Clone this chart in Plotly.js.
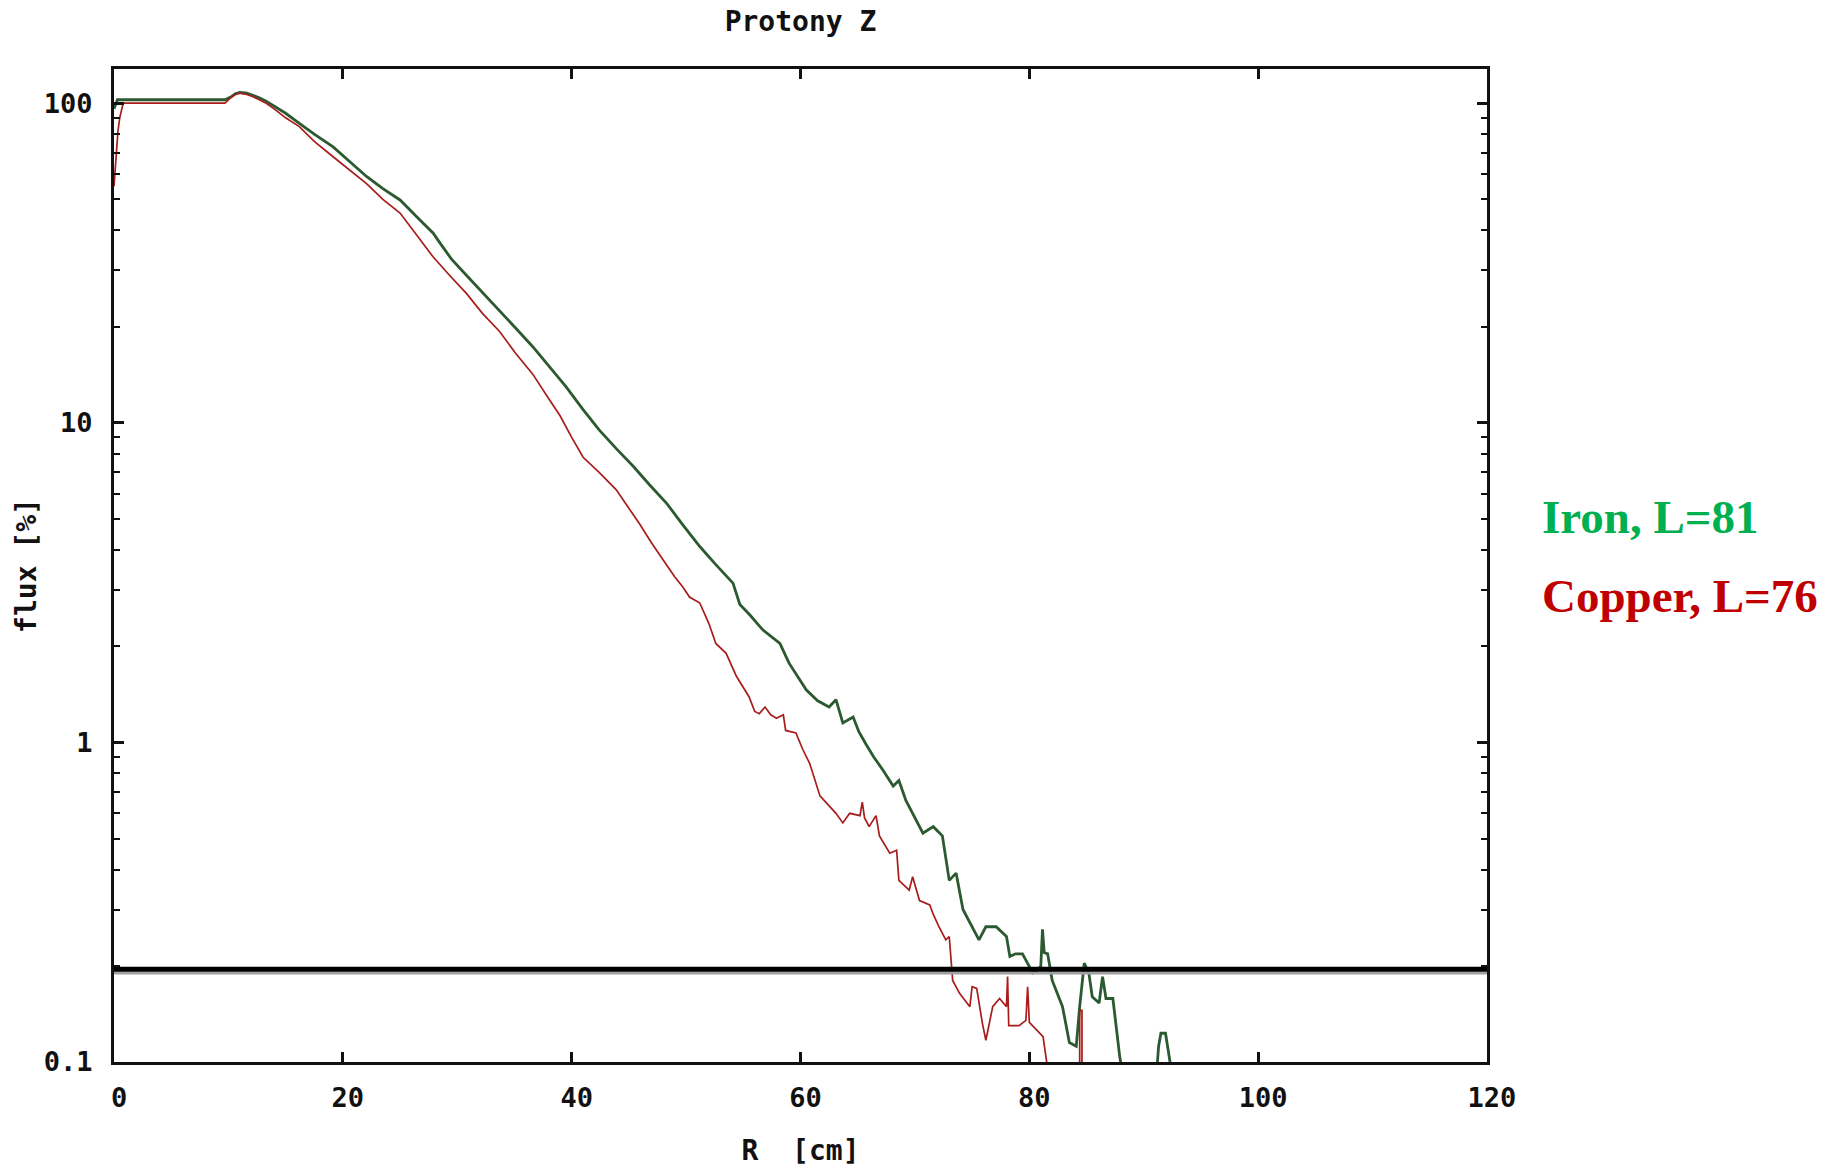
<!DOCTYPE html>
<html>
<head>
<meta charset="utf-8">
<script src="https://cdn.plot.ly/plotly-3.0.1.min.js"></script>
<style>html,body{margin:0;padding:0;background:#fff;}#chart{width:1835px;height:1167px;}</style>
</head>
<body>
<div id="chart"></div>
<script>
// Iron (green) profile: R [cm] and flux [%]
const ironR = [0, 0.3, 9.7, 10.2, 10.6, 11.0, 11.6, 12.1, 12.7, 13.3, 14.0, 15.0, 16.2, 17.5, 19.15, 20.5, 22.07, 23.5, 25.0, 26.5, 27.9, 28.5, 29.5, 30.9, 32.25, 33.7, 35.1, 36.6, 38.0, 39.5, 41.0, 42.4, 43.9, 45.4, 46.8, 48.3, 49.7, 51.2, 52.6, 54.1, 54.7, 55.6, 56.7, 58.2, 59.0, 59.8, 60.5, 61.5, 62.5, 63.1, 63.7, 64.6, 65.1, 65.7, 66.4, 67.2, 68.1, 68.6, 69.2, 69.8, 70.7, 71.6, 72.4, 73.0, 73.6, 74.2, 75.0, 75.6, 76.2, 77.1, 78.0, 78.3, 78.8, 79.4, 80.3, 81.0, 81.15, 81.3, 81.6, 82.0, 82.9, 83.5, 84.1, 84.4, 84.8, 85.2, 85.5, 86.1, 86.4, 86.7, 87.3, 87.6, 87.9, 88.2, 91.1, 91.3, 91.5, 91.9, 92.2, 92.5];
const ironFlux = [96, 102.5, 102.5, 104.5, 107, 108, 107.5, 106, 104, 101.5, 98, 93, 86.5, 80, 73, 66, 59, 54, 49.8, 44, 39.2, 36.5, 32.5, 28.7, 25.5, 22.5, 19.8, 17.3, 15, 12.97, 11.0, 9.5, 8.3, 7.3, 6.4, 5.6, 4.8, 4.1, 3.6, 3.15, 2.7, 2.5, 2.25, 2.04, 1.77, 1.6, 1.46, 1.35, 1.29, 1.36, 1.15, 1.2, 1.08, 0.99, 0.9, 0.82, 0.73, 0.76, 0.66, 0.6, 0.52, 0.545, 0.51, 0.37, 0.39, 0.30, 0.265, 0.241, 0.265, 0.265, 0.247, 0.214, 0.218, 0.218, 0.19, 0.199, 0.26, 0.22, 0.218, 0.18, 0.149, 0.115, 0.112, 0.149, 0.204, 0.19, 0.16, 0.153, 0.185, 0.158, 0.158, 0.129, 0.104, 0.09, 0.09, 0.112, 0.123, 0.123, 0.106, 0.09];

// Copper (red) profile: R [cm] and flux [%]
const copperR = [0, 0.1, 0.2, 0.35, 0.5, 0.65, 0.8, 9.7, 10.2, 10.6, 11.0, 11.6, 12.1, 12.7, 13.3, 14.0, 15.0, 16.2, 17.5, 19.15, 20.5, 22.07, 23.5, 25.0, 26.5, 27.9, 29.3, 30.8, 32.2, 33.7, 35.1, 36.6, 37.8, 39.0, 40.0, 41.0, 42.4, 43.9, 45.0, 45.9, 47.0, 48.3, 49.0, 49.7, 50.3, 51.2, 52.0, 52.6, 53.5, 54.4, 55.0, 55.5, 56.0, 56.4, 56.9, 57.4, 57.9, 58.5, 58.7, 59.6, 60.2, 60.8, 61.7, 62.4, 63.1, 63.7, 64.3, 65.2, 65.4, 65.6, 66.0, 66.6, 66.9, 67.8, 68.4, 68.6, 69.5, 69.8, 70.4, 71.3, 71.6, 72.1, 72.7, 73.0, 73.3, 73.9, 74.8, 75.0, 75.4, 75.9, 76.2, 76.8, 77.4, 78.0, 78.1, 78.2, 79.1, 79.7, 79.85, 80.0, 80.6, 81.2, 81.7, 84.4, 84.4, 84.6, 84.6];
const copperFlux = [55, 62, 72, 82, 90, 96, 100, 100, 104, 106.5, 107.5, 106.5, 105, 102.5, 100, 96, 90, 84.5, 76, 68, 62, 56, 50, 45.3, 38.5, 33, 29, 25.4, 22, 19.3, 16.5, 14.2, 12.2, 10.5, 9.0, 7.8, 7.0, 6.17, 5.4, 4.85, 4.2, 3.6, 3.3, 3.07, 2.85, 2.73, 2.35, 2.04, 1.9, 1.61, 1.48, 1.39, 1.25, 1.23, 1.29, 1.22, 1.19, 1.22, 1.09, 1.07, 0.95, 0.86, 0.68, 0.64, 0.60, 0.56, 0.60, 0.59, 0.65, 0.58, 0.545, 0.59, 0.51, 0.45, 0.46, 0.37, 0.345, 0.38, 0.32, 0.31, 0.29, 0.265, 0.241, 0.247, 0.18, 0.164, 0.149, 0.172, 0.17, 0.132, 0.117, 0.149, 0.158, 0.149, 0.185, 0.13, 0.13, 0.135, 0.172, 0.133, 0.126, 0.12, 0.09, 0.09, 0.145, 0.145, 0.09];

// Horizontal reference level
const limitR = [0, 120];
const limitFlux = [0.195, 0.195];
const limitShadowFlux = [0.19, 0.19];

// Axis ticks
const xTicks = [0, 20, 40, 60, 80, 100, 120];
const yTicks = [0.1, 1, 10, 100];
const yTickText = ['0.1', '1', '10', '100'];

const tickFont = {family: 'DejaVu Sans Mono', size: 27, color: '#111', weight: 'bold'};
const titleFont = {family: 'DejaVu Sans Mono', size: 28, color: '#111', weight: 'bold'};

const traces = [
  {x: ironR, y: ironFlux, type: 'scatter', mode: 'lines', line: {shape: 'linear', color: '#2b5a30', width: 2.8}, hoverinfo: 'skip'},
  {x: copperR, y: copperFlux, type: 'scatter', mode: 'lines', line: {shape: 'linear', color: '#a81c1c', width: 1.7}, hoverinfo: 'skip'},
  {x: limitR, y: limitShadowFlux, type: 'scatter', mode: 'lines', line: {color: '#a0a0a0', width: 3}, hoverinfo: 'skip'},
  {x: limitR, y: limitFlux, type: 'scatter', mode: 'lines', line: {color: '#000', width: 5}, hoverinfo: 'skip'}
];

const layout = {
  width: 1835, height: 1167,
  margin: {l: 114, r: 348, t: 69, b: 105, pad: 0},
  paper_bgcolor: '#fff', plot_bgcolor: '#fff',
  showlegend: false,
  title: {text: 'Protony Z', font: titleFont, x: 0.5, xref: 'paper', xanchor: 'center', y: 0.982, yanchor: 'middle'},
  xaxis: {
    type: 'linear', range: [0, 120], tickvals: xTicks, ticktext: xTicks.map(String),
    ticks: 'inside', ticklen: 10, tickwidth: 3, tickcolor: '#111',
    showline: true, linewidth: 3, linecolor: '#111', mirror: 'ticks',
    showgrid: false, zeroline: false, tickfont: tickFont, ticklabelstandoff: 10, ticklabelshift: 5,
    title: {text: 'R  [cm]', font: titleFont, standoff: 34}
  },
  yaxis: {
    type: 'log', range: [-1, 2.107], tickvals: yTicks, ticktext: yTickText,
    ticks: 'inside', ticklen: 10, tickwidth: 3, tickcolor: '#111',
    minor: {ticks: 'inside', ticklen: 6, tickwidth: 2, tickcolor: '#111', dtick: 'D1', showgrid: false},
    showline: true, linewidth: 3, linecolor: '#111', mirror: 'ticks',
    showgrid: false, zeroline: false, tickfont: tickFont, ticklabelstandoff: 13,
    title: {text: 'flux [%]', font: titleFont, standoff: 0}
  },
  annotations: [
    {text: 'Iron, L=81', xref: 'paper', yref: 'paper', x: 1.0387, y: 0.549, xanchor: 'left', yanchor: 'middle', showarrow: false,
     font: {family: 'Liberation Serif', size: 47, color: '#00b050', weight: 'bold'}},
    {text: 'Copper, L=76', xref: 'paper', yref: 'paper', x: 1.0385, y: 0.4695, xanchor: 'left', yanchor: 'middle', showarrow: false,
     font: {family: 'Liberation Serif', size: 47, color: '#c00000', weight: 'bold'}}
  ]
};

Plotly.newPlot('chart', traces, layout, {staticPlot: true, displayModeBar: false});
</script>
</body>
</html>
